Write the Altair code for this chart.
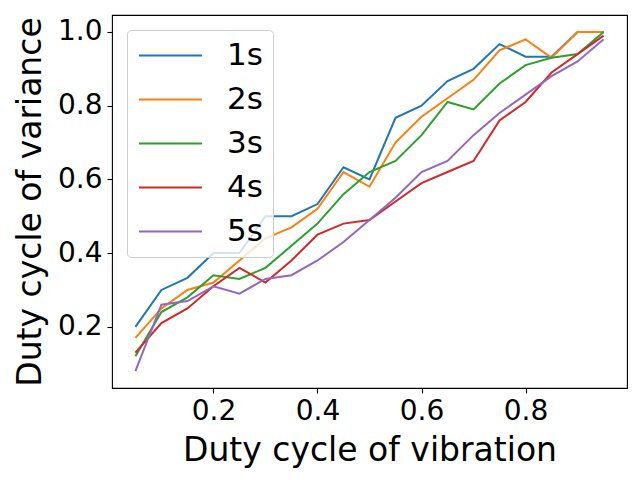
import altair as alt
import pandas as pd

x_vals = [0.05, 0.10, 0.15, 0.20, 0.25, 0.30, 0.35, 0.40, 0.45, 0.50,
          0.55, 0.60, 0.65, 0.70, 0.75, 0.80, 0.85, 0.90, 0.95]
s1 = [0.20, 0.30, 0.333, 0.40, 0.40, 0.50, 0.50, 0.533, 0.633, 0.60,
      0.767, 0.80, 0.867, 0.90, 0.967, 0.933, 0.933, 1.00, 1.00]
s2 = [0.17, 0.25, 0.30, 0.32, 0.38, 0.44, 0.47, 0.52, 0.62, 0.58,
      0.70, 0.77, 0.82, 0.87, 0.95, 0.98, 0.93, 1.00, 1.00]
s3 = [0.12, 0.24, 0.28, 0.34, 0.33, 0.36, 0.42, 0.48, 0.56, 0.62,
      0.65, 0.72, 0.81, 0.79, 0.86, 0.91, 0.93, 0.94, 1.00]
s4 = [0.13, 0.21, 0.25, 0.31, 0.36, 0.32, 0.38, 0.45, 0.48, 0.49,
      0.54, 0.59, 0.62, 0.65, 0.76, 0.81, 0.89, 0.94, 0.99]
s5 = [0.08, 0.26, 0.27, 0.31, 0.29, 0.33, 0.34, 0.38, 0.43, 0.49,
      0.55, 0.62, 0.65, 0.72, 0.78, 0.83, 0.88, 0.92, 0.98]
series_names = ["1s", "2s", "3s", "4s", "5s"]
series_colors = ["#1f77b4", "#ff7f0e", "#2ca02c", "#d62728", "#9467bd"]
x_ticks = [0.2, 0.4, 0.6, 0.8]
y_ticks = [0.2, 0.4, 0.6, 0.8, 1.0]

rows = []
for name, vals in zip(series_names, [s1, s2, s3, s4, s5]):
    for i, (xv, yv) in enumerate(zip(x_vals, vals)):
        rows.append({"x": xv, "y": yv, "series": name, "order": i})
df = pd.DataFrame(rows)

FONT = "DejaVu Sans"

chart = alt.Chart(df).mark_line(strokeWidth=2).encode(
    x=alt.X("x:Q",
            scale=alt.Scale(domain=[0.005, 0.995], nice=False, zero=False),
            axis=alt.Axis(values=x_ticks, format=".1f", title="Duty cycle of vibration",
                          grid=False, labelFontSize=28, titleFontSize=33,
                          tickSize=5, labelPadding=4, titlePadding=9,
                          labelFlush=False, labelOverlap=False)),
    y=alt.Y("y:Q",
            scale=alt.Scale(domain=[0.034, 1.046], nice=False, zero=False),
            axis=alt.Axis(values=y_ticks, format=".1f", title="Duty cycle of variance",
                          grid=False, labelFontSize=28, titleFontSize=33,
                          tickSize=5, labelPadding=5, titlePadding=10,
                          labelFlush=False, labelOverlap=False)),
    color=alt.Color("series:N",
                    scale=alt.Scale(domain=series_names, range=series_colors),
                    legend=alt.Legend(title=None, orient="none", legendX=15, legendY=15,
                                      symbolType="M-3,0H3", symbolSize=441,
                                      symbolStrokeWidth=2, symbolOffset=18,
                                      labelFontSize=31, labelOffset=41,
                                      rowPadding=12, padding=10,
                                      strokeColor="#cccccc", cornerRadius=4,
                                      fillColor="rgba(255,255,255,0.8)")),
    order="order:Q",
).properties(
    width=515, height=373,
    autosize=alt.AutoSizeParams(type="none"),
    padding={"left": 104, "top": 7, "right": 5, "bottom": 80},
).configure_view(
    stroke="black", strokeWidth=1.1
).configure_axis(
    domain=False, tickColor="black", labelColor="black", titleColor="black",
    labelFont=FONT, titleFont=FONT, titleFontWeight="normal", tickWidth=1.1
).configure_legend(
    labelFont=FONT, labelColor="black"
)

chart.save("out.html", embed_options={"renderer": "svg", "actions": False})
